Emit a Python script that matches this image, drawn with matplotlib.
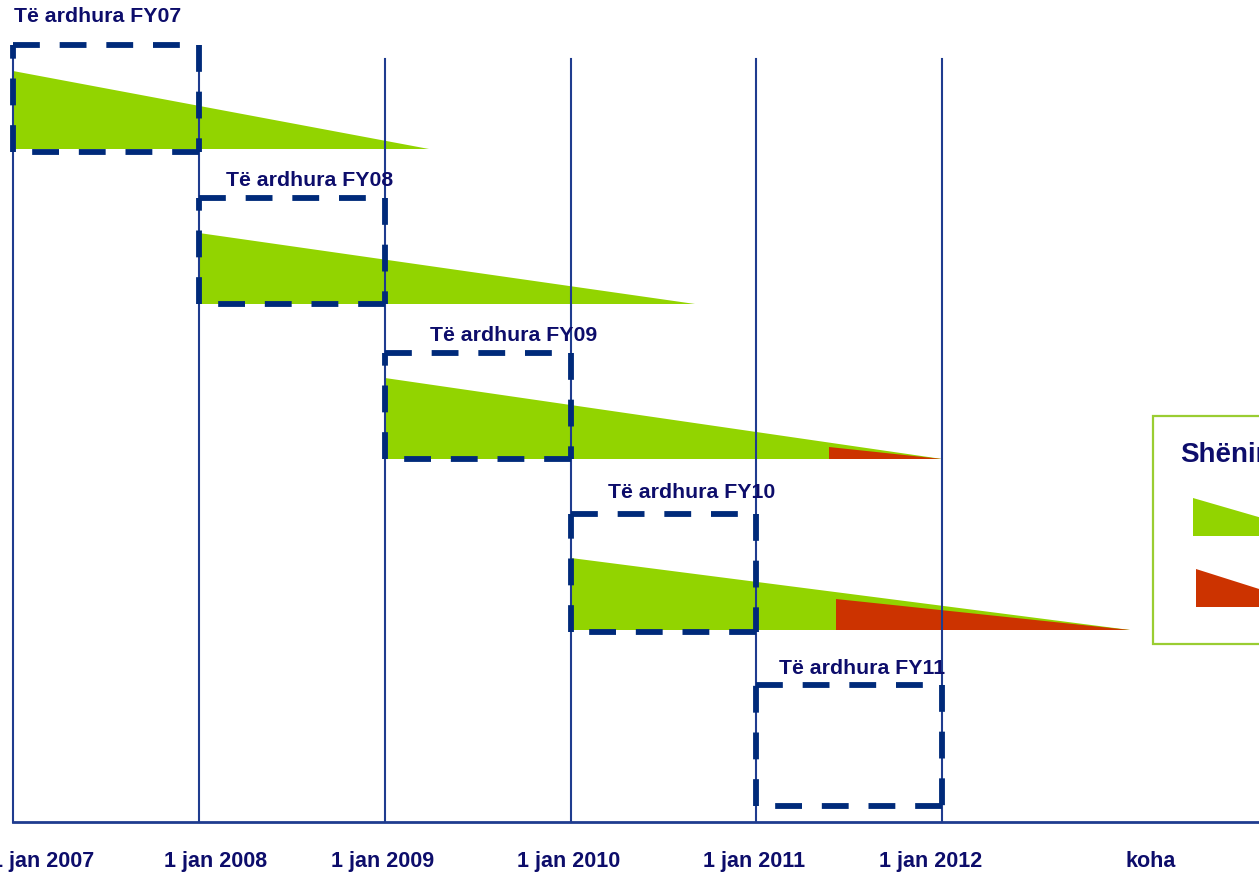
import numpy as np
import matplotlib.pyplot as plt
from matplotlib.patches import Polygon, Rectangle

plt.rcParams['font.family'] = ['Liberation Sans', 'DejaVu Sans']

# revenue per fiscal year, recognised over time
fiscal_years = ['FY07', 'FY08', 'FY09', 'FY10', 'FY11']
period_start = [2007.0, 2008.0, 2009.0, 2010.0, 2011.0]
period_end = [2008.0, 2009.0, 2010.0, 2011.0, 2012.0]
revenue_end = [2009.24, 2010.67, 2012.0, 2013.01, None]
revenue_height = [78, 71, 81, 72, 0]
late_start = [None, None, 2011.39, 2011.43, None]
late_height = [0, 0, 12, 31, 0]

tick_years = [2007, 2008, 2009, 2010, 2011, 2012]
tick_labels = ['1 jan 2007', '1 jan 2008', '1 jan 2009', '1 jan 2010',
               '1 jan 2011', '1 jan 2012', 'koha']

# layout (y runs downward)
row_base = [150, 305, 460, 631, 807]
box_top = [46, 199, 354, 515, 686]
box_bottom = [153, 305, 460, 633, 807]
label_x = [2007.004, 2008.145, 2009.243, 2010.20, 2011.12]
label_y = [17, 180, 336, 493, 669]
tick_label_x = [2007.16, 2008.09, 2008.99, 2009.99, 2010.99, 2011.94, 2013.12]
axis_y = 823
grid_top = 60

green = '#92d400'
red = '#cc3300'
navy = '#002a7a'
linec = '#1f3c8f'
textc = '#0d0d6b'

fig = plt.figure(figsize=(12.59, 8.79), dpi=100)
ax = fig.add_axes([0, 0, 1, 1])
ax.set_xlim(2006.929, 2013.705)
ax.set_ylim(879, 0)
ax.axis('off')

# grid lines and time axis
for yr in tick_years:
    ax.plot([yr, yr], [grid_top, axis_y], color=linec, lw=1.5, zorder=3)
ax.plot([tick_years[0], 2014], [axis_y, axis_y], color=linec, lw=2, zorder=3)

for x, lab in zip(tick_label_x, tick_labels):
    ax.text(x, 862, lab, ha='center', va='center', fontsize=15.5,
            fontweight='bold', color=textc)


def dashed_box(x0, x1, y0, y1):
    corners = [(x0, y0), (x1, y0), (x1, y1), (x0, y1), (x0, y0)]
    for (xa, ya), (xb, yb) in zip(corners[:-1], corners[1:]):
        ax.plot([xa, xb], [ya, yb], color=navy, lw=4.2,
                linestyle=(0, (4.6, 3.4)), dash_capstyle='butt', zorder=5)


for i, fy in enumerate(fiscal_years):
    base = row_base[i]
    if revenue_end[i] is not None:
        top = base - revenue_height[i]
        ax.add_patch(Polygon([(period_start[i], top), (period_start[i], base),
                              (revenue_end[i], base)],
                             closed=True, facecolor=green, edgecolor='none', zorder=2))
        if late_start[i] is not None:
            ax.add_patch(Polygon([(late_start[i], base - late_height[i]),
                                  (late_start[i], base), (revenue_end[i], base)],
                                 closed=True, facecolor=red, edgecolor='none', zorder=2))
    dashed_box(period_start[i], period_end[i], box_top[i], box_bottom[i])
    ax.text(label_x[i], label_y[i], 'Të ardhura ' + fy, ha='left', va='center',
            fontsize=15.3, fontweight='bold', color=textc)

# legend box (cut by the right edge)
ax.add_patch(Rectangle((2013.134, 417), 1.2, 228, facecolor='white',
                       edgecolor='#9acd32', lw=1.6, zorder=4, clip_on=True))
ax.text(2013.28, 455, 'Shënim', ha='left', va='center', fontsize=20,
        fontweight='bold', color=textc, zorder=6)
ax.add_patch(Polygon([(2013.35, 499), (2013.35, 537), (2014.055, 537)],
                     closed=True, facecolor=green, edgecolor='none', zorder=5))
ax.add_patch(Polygon([(2013.366, 570), (2013.366, 608), (2014.01, 608)],
                     closed=True, facecolor=red, edgecolor='none', zorder=5))

fig.savefig('out.png', dpi=100)
